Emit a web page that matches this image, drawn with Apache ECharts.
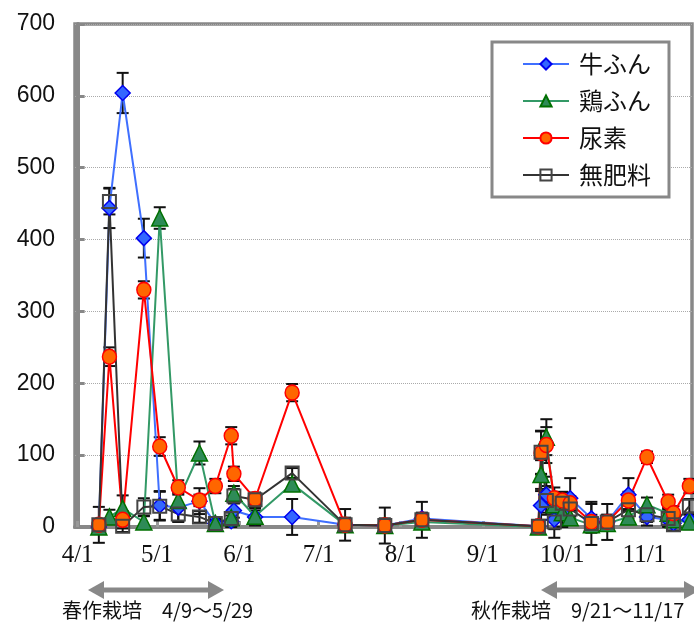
<!DOCTYPE html>
<html>
	<head>
		<meta charset="UTF-8">
		<title></title>
	</head>
	<body style="height: 100%; margin: 0">
		<div id="container" style="width: 694px; height: 625px"></div>
		<script src="https://cdn.jsdelivr.net/npm/echarts@6/dist/echarts.min.js" type="text/javascript" charset="utf-8"></script>
		<script type="text/javascript">
			// days counted from 4/1
			var days = [8, 12, 17, 25, 31, 38, 46, 52, 58, 59, 67, 81, 101, 116, 130,
			            174, 175, 177, 180, 183, 186, 194, 200, 208, 215, 223, 225, 231];

			var gyufun = [0, 444, 604, 402, 30, 27, 36, 5, 8, 23, 14, 14, 3, 2, 12,
			              1, 30, 45, 10, 20, 40, 12, 7, 45, 14, 10, 5, 10];
			var gyufunErr = [3, 28, 28, 27, 20, 20, 18, 5, 8, 10, 12, 25, 5, 4, 6,
			                 2, 20, 25, 25, 20, 28, 20, 10, 23, 12, 10, 10, 10];

			var keifun = [0, 14, 26, 7, 430, 37, 103, 5, 13, 47, 15, 60, 3, 2, 7,
			              0, 73, 125, 31, 20, 13, 3, 5, 14, 31, 19, 10, 7];
			var keifunErr = [3, 10, 18, 8, 15, 12, 16, 8, 8, 10, 8, 8, 5, 4, 5,
			                 2, 20, 25, 15, 10, 10, 8, 8, 10, 10, 8, 8, 10];

			var nyoso = [3, 237, 10, 330, 112, 55, 37, 57, 127, 74, 39, 187, 3, 2, 10,
			             1, 103, 114, 40, 37, 33, 7, 7, 37, 97, 35, 19, 57];
			var nyosoErr = [3, 13, 12, 12, 13, 10, 8, 10, 12, 10, 8, 12, 22, 25, 25,
			                2, 30, 25, 15, 12, 10, 10, 10, 12, 8, 10, 10, 10];

			var muhiryo = [3, 453, 1, 28, 29, 18, 14, 5, 12, 43, 38, 75, 3, 2, 10,
			               1, 104, 37, 7, 33, 25, 5, 7, 24, 17, 12, 3, 29];
			var muhiryoErr = [25, 18, 8, 12, 20, 10, 8, 6, 8, 10, 10, 7, 10, 10, 10,
			                  2, 30, 20, 10, 15, 10, 30, 25, 12, 10, 10, 8, 10];

			var monthDays = [0, 30, 61, 91, 122, 153, 183, 214];
			var monthLabels = ['4/1', '5/1', '6/1', '7/1', '8/1', '9/1', '10/1', '11/1'];

			var names = ['牛ふん', '鶏ふん', '尿素', '無肥料'];

			function pairs(vals) {
				return days.map(function (d, i) { return [d, vals[i]]; });
			}
			function triples(vals, errs) {
				return days.map(function (d, i) { return [d, vals[i], errs[i]]; });
			}

			function renderErr(params, api) {
				var x = api.value(0), y = api.value(1), e = api.value(2);
				var top = api.coord([x, y + e]);
				var bot = api.coord([x, y - e]);
				var hw = 6;
				var st = { stroke: '#111', lineWidth: 2 };
				return {
					type: 'group',
					children: [
						{ type: 'line', shape: { x1: top[0], y1: top[1], x2: bot[0], y2: bot[1] }, style: st },
						{ type: 'line', shape: { x1: top[0] - hw, y1: top[1], x2: top[0] + hw, y2: top[1] }, style: st },
						{ type: 'line', shape: { x1: bot[0] - hw, y1: bot[1], x2: bot[0] + hw, y2: bot[1] }, style: st }
					]
				};
			}

			function errSeries(vals, errs) {
				return {
					type: 'custom',
					renderItem: renderErr,
					data: triples(vals, errs),
					z: 1,
					silent: true,
					clip: false
				};
			}

			var dom = document.getElementById("container");
			var myChart = echarts.init(dom);

			var arrowColor = '#888888';
			function arrow(x1, x2, y) {
				return [
					{ type: 'line', shape: { x1: x1 + 10, y1: y, x2: x2 - 10, y2: y }, style: { stroke: arrowColor, lineWidth: 5 } },
					{ type: 'polygon', shape: { points: [[x1, y], [x1 + 16, y - 9], [x1 + 16, y + 9]] }, style: { fill: arrowColor } },
					{ type: 'polygon', shape: { points: [[x2, y], [x2 - 16, y - 9], [x2 - 16, y + 9]] }, style: { fill: arrowColor } }
				];
			}

			var option = {
				animation: false,
				backgroundColor: '#fff',
				grid: {
					left: 75,
					top: 24,
					right: 2,
					bottom: 98,
					show: true,
					borderColor: '#888',
					borderWidth: 3.5
				},
				legend: {
					data: names,
					orient: 'vertical',
					left: 492,
					top: 42,
					padding: [8, 18, 8, 30],
					itemWidth: 46,
					itemHeight: 14,
					itemGap: 9,
					backgroundColor: '#fff',
					borderColor: '#888',
					borderWidth: 3,
					textStyle: {
						fontFamily: 'Noto Sans CJK JP',
						fontSize: 24,
						lineHeight: 28,
						color: '#111',
						padding: [0, 0, 0, 5]
					}
				},
				xAxis: {
					type: 'value',
					min: -1,
					max: 232,
					splitLine: { show: false },
					axisLine: { lineStyle: { color: '#888', width: 4 } },
					axisTick: {
						inside: true,
						length: 6,
						customValues: monthDays,
						lineStyle: { color: '#999', width: 3 }
					},
					axisLabel: {
						customValues: monthDays,
						margin: 16,
						fontFamily: 'Liberation Sans Narrow',
						fontSize: 25,
						color: '#111',
						formatter: function (v) {
							var i = monthDays.indexOf(v);
							return i >= 0 ? monthLabels[i] : '';
						}
					}
				},
				yAxis: {
					type: 'value',
					min: 0,
					max: 700,
					interval: 100,
					axisLine: { show: true, lineStyle: { color: '#888', width: 4 } },
					axisTick: { show: true, inside: true, length: 7, lineStyle: { color: '#888', width: 3 } },
					axisLabel: {
						margin: 20,
						fontFamily: 'Liberation Sans',
						fontSize: 23,
						color: '#111'
					},
					splitLine: { lineStyle: { color: '#aaa', type: 'dotted', width: 1 } }
				},
				graphic: [].concat(
					arrow(88, 224, 590),
					arrow(541, 700, 590),
					[
						{ type: 'text', left: 62, top: 600, style: { text: '春作栽培　4/9～5/29', font: '20px "Noto Sans CJK JP"', fill: '#111' } },
						{ type: 'text', left: 471, top: 600, style: { text: '秋作栽培　9/21～11/17', font: '20px "Noto Sans CJK JP"', fill: '#111' } }
					]
				),
				series: [
					errSeries(gyufun, gyufunErr),
					errSeries(keifun, keifunErr),
					errSeries(nyoso, nyosoErr),
					errSeries(muhiryo, muhiryoErr),
					{
						name: '牛ふん',
						type: 'line',
						data: pairs(gyufun),
						z: 3,
						symbol: 'diamond',
						symbolSize: 15,
						lineStyle: { color: '#3F6FFF', width: 2 },
						itemStyle: { color: '#3366FF', borderColor: '#0000EE', borderWidth: 1.5 }
					},
					{
						name: '鶏ふん',
						type: 'line',
						data: pairs(keifun),
						z: 3,
						symbol: 'triangle',
						symbolSize: 16,
						lineStyle: { color: '#339966', width: 2 },
						itemStyle: { color: '#2E8B57', borderColor: '#007000', borderWidth: 1.5 }
					},
					{
						name: '尿素',
						type: 'line',
						data: pairs(nyoso),
						z: 3,
						symbol: 'circle',
						symbolSize: [14, 15],
						lineStyle: { color: '#FF0000', width: 2 },
						itemStyle: { color: '#FF6600', borderColor: '#FF0000', borderWidth: 1.5 }
					},
					{
						name: '無肥料',
						type: 'line',
						data: pairs(muhiryo),
						z: 3,
						symbol: 'rect',
						symbolSize: 13,
						lineStyle: { color: '#333333', width: 2 },
						itemStyle: { color: 'rgba(255,255,255,0)', borderColor: '#444444', borderWidth: 2 }
					}
				]
			};

			myChart.setOption(option);
       </script>
	</body>
</html>
